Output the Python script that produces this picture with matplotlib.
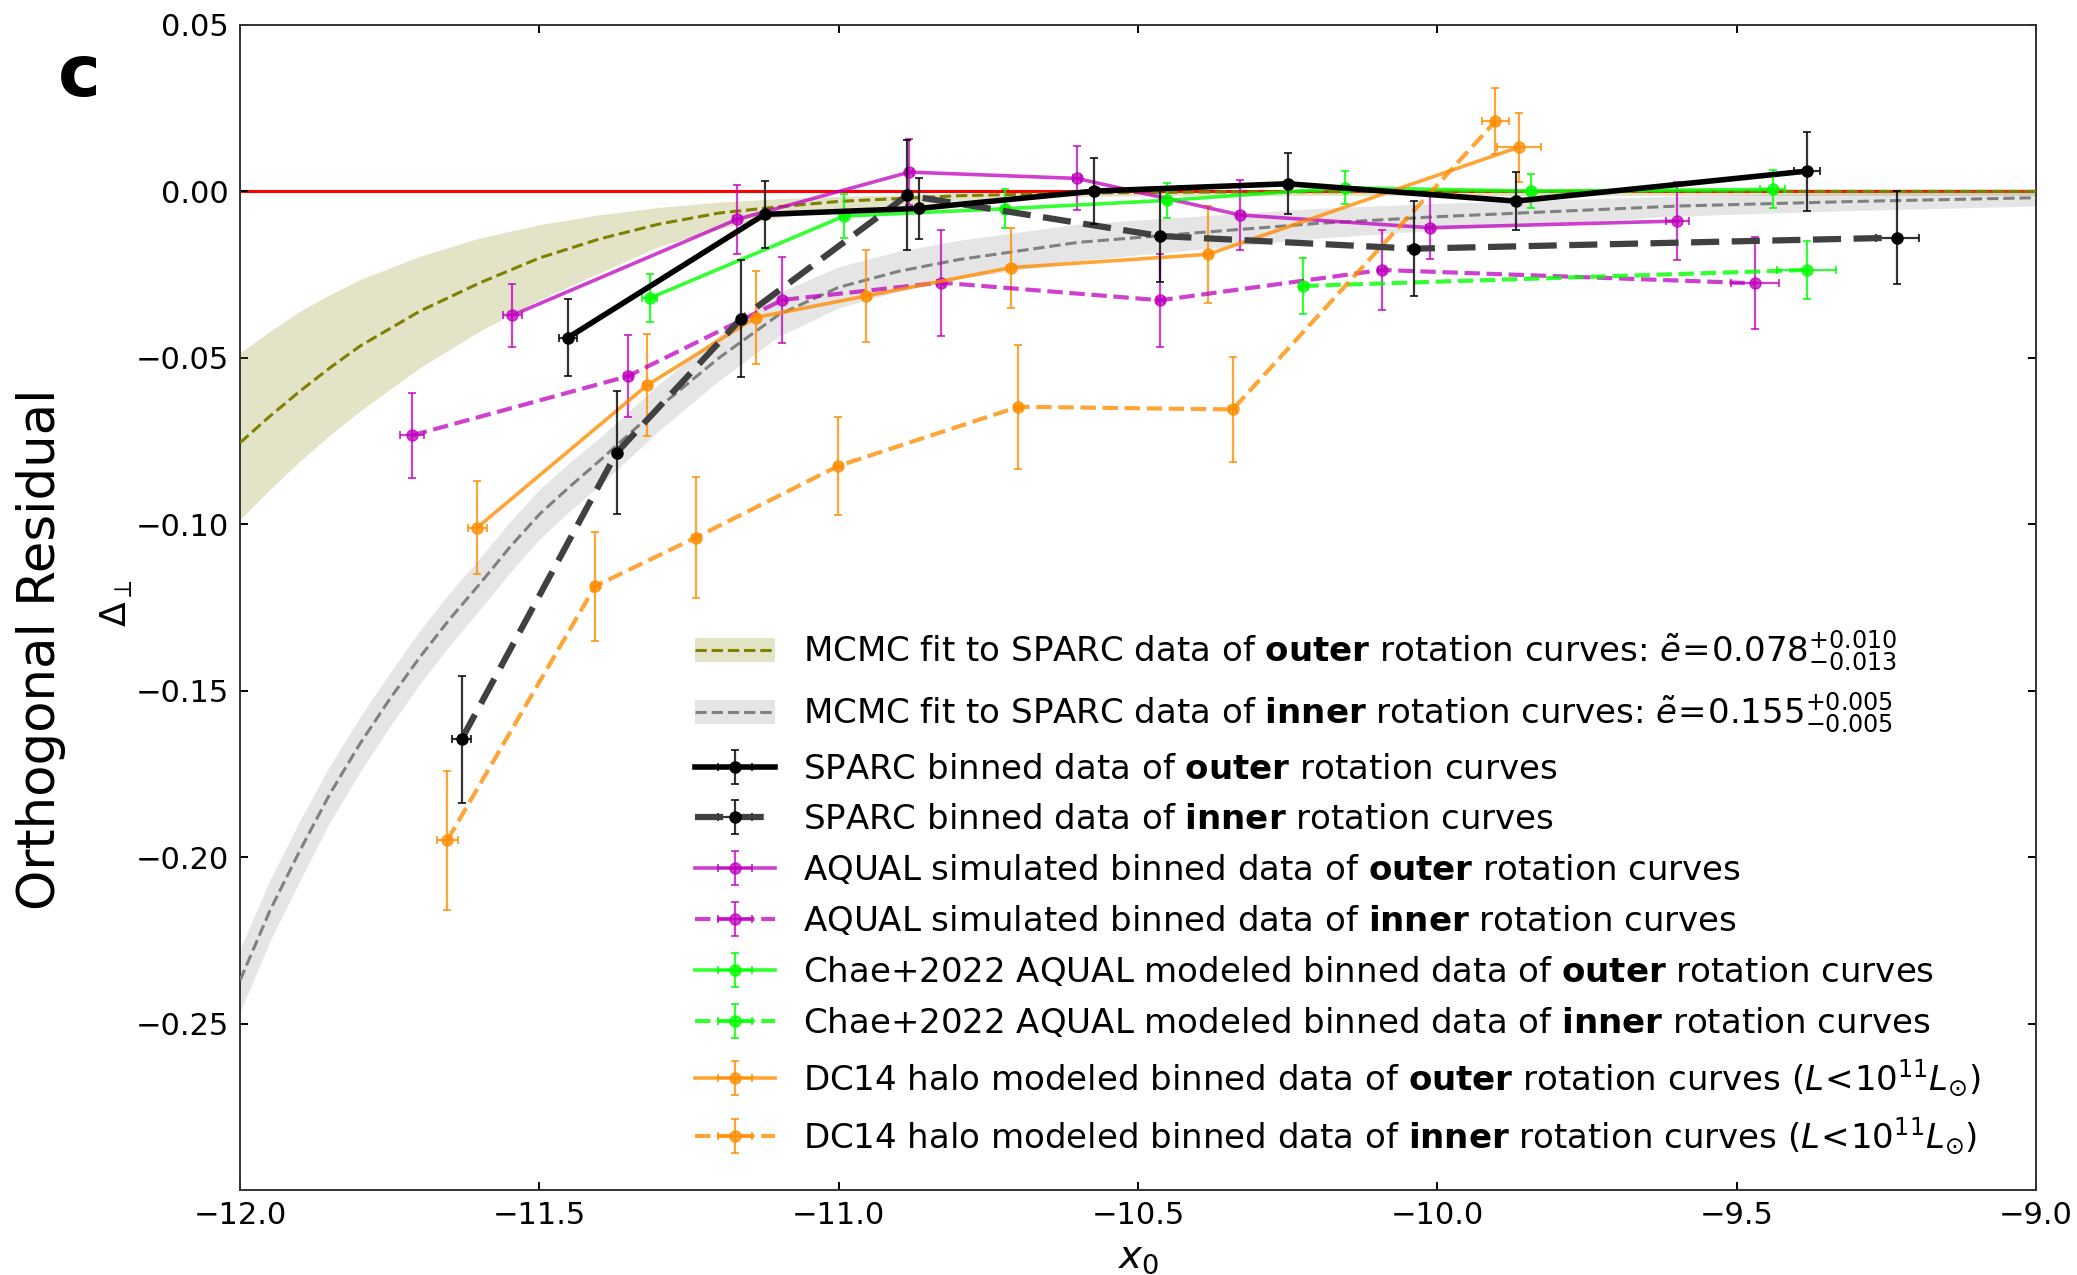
import matplotlib.pyplot as plt

# MCMC fit curves (x0 grid, centre line, band edges)
fit_out_x = [-12.0, -11.95, -11.9, -11.85, -11.8, -11.7, -11.6, -11.5, -11.4, -11.3, -11.2,
             -11.1, -11.0, -10.8, -10.6, -10.4, -10.0, -9.5, -9.0]
fit_out_y = [-0.0755, -0.0675, -0.0600, -0.0530, -0.0465, -0.0360, -0.0275, -0.0200,
             -0.0143, -0.0098, -0.0065, -0.0046, -0.0030, -0.0013, -0.0005, -0.0002,
             0.0, 0.0, 0.0]
fit_out_hi = [-0.0485, -0.0420, -0.0360, -0.0310, -0.0265, -0.0195, -0.0140, -0.0100,
              -0.0070, -0.0048, -0.0032, -0.0022, -0.0015, -0.0006, -0.0002, 0.0002,
              0.0008, 0.0008, 0.0008]
fit_out_lo = [-0.0985, -0.0895, -0.0810, -0.0732, -0.0660, -0.0530, -0.0420, -0.0325,
              -0.0245, -0.0165, -0.0112, -0.0078, -0.0055, -0.0028, -0.0015, -0.0012,
              -0.0012, -0.0012, -0.0012]

fit_in_x = [-12.0, -11.95, -11.9, -11.85, -11.8, -11.75, -11.7, -11.65, -11.6, -11.55,
            -11.5, -11.45, -11.4, -11.3, -11.2, -11.1, -11.0, -10.9, -10.8, -10.6, -10.4,
            -10.2, -10.0, -9.8, -9.6, -9.3, -9.0]
fit_in_y = [-0.237, -0.216, -0.198, -0.181, -0.166, -0.1525, -0.140, -0.1285, -0.118,
            -0.107, -0.097, -0.0888, -0.081, -0.0648, -0.050, -0.037, -0.0288, -0.024,
            -0.0205, -0.0153, -0.0124, -0.0096, -0.0076, -0.0060, -0.0044, -0.0030, -0.0019]
fit_in_hi = [-0.2275, -0.2068, -0.1890, -0.1725, -0.1580, -0.1447, -0.1320, -0.1206,
             -0.1102, -0.0994, -0.0895, -0.0815, -0.0741, -0.0578, -0.0432, -0.0305,
             -0.0226, -0.0180, -0.0147, -0.0098, -0.0074, -0.0051, -0.0036, -0.0025,
             -0.0014, -0.0003, 0.0006]
fit_in_lo = [-0.2465, -0.2252, -0.2070, -0.1895, -0.1745, -0.1608, -0.1480, -0.1364,
             -0.1258, -0.1146, -0.1045, -0.0961, -0.0885, -0.0718, -0.0568, -0.0435,
             -0.0350, -0.0300, -0.0263, -0.0208, -0.0174, -0.0141, -0.0116, -0.0095,
             -0.0074, -0.0057, -0.0044]

# binned residuals
sparc_out_x = [-11.452, -11.124, -10.866, -10.573, -10.250, -9.869, -9.383]
sparc_out_y = [-0.0439, -0.0069, -0.0051, 0.0001, 0.0023, -0.0029, 0.0061]
sparc_out_ye = [0.0117, 0.0100, 0.0092, 0.0098, 0.0092, 0.0086, 0.0119]
sparc_out_xe = [0.015, 0.005, 0.005, 0.008, 0.005, 0.006, 0.022]

sparc_in_x = [-11.630, -11.371, -11.163, -10.886, -10.463, -10.039, -9.232]
sparc_in_y = [-0.1646, -0.0785, -0.0382, -0.0012, -0.0134, -0.0172, -0.0139]
sparc_in_ye = [0.0190, 0.0185, 0.0175, 0.0165, 0.0137, 0.0142, 0.0139]
sparc_in_xe = [0.016, 0.006, 0.006, 0.006, 0.006, 0.006, 0.036]

aqual_out_x = [-11.545, -11.170, -10.882, -10.602, -10.329, -10.013, -9.599]
aqual_out_y = [-0.0372, -0.0084, 0.0058, 0.0039, -0.0071, -0.0109, -0.0089]
aqual_out_ye = [0.0095, 0.0103, 0.0100, 0.0096, 0.0106, 0.0094, 0.0116]
aqual_out_xe = [0.016, 0.006, 0.006, 0.006, 0.006, 0.006, 0.019]

aqual_in_x = [-11.713, -11.352, -11.094, -10.830, -10.463, -10.093, -9.470]
aqual_in_y = [-0.0733, -0.0555, -0.0326, -0.0274, -0.0327, -0.0236, -0.0276]
aqual_in_ye = [0.0128, 0.0123, 0.0129, 0.0159, 0.0139, 0.0120, 0.0138]
aqual_in_xe = [0.020, 0.006, 0.006, 0.006, 0.006, 0.006, 0.040]

chae_out_x = [-11.316, -10.991, -10.722, -10.452, -10.155, -9.844, -9.440]
chae_out_y = [-0.0321, -0.0074, -0.0052, -0.0027, 0.0011, 0.0001, 0.0006]
chae_out_ye = [0.0072, 0.0065, 0.0059, 0.0053, 0.0050, 0.0051, 0.0057]
chae_out_xe = [0.012, 0.005, 0.005, 0.005, 0.005, 0.005, 0.021]

chae_in_x = [-10.224, -9.383]
chae_in_y = [-0.0284, -0.0236]
chae_in_ye = [0.0083, 0.0088]
chae_in_xe = [0.008, 0.049]

dc14_out_x = [-11.604, -11.320, -11.139, -10.954, -10.713, -10.383, -9.864]
dc14_out_y = [-0.1010, -0.0582, -0.0379, -0.0314, -0.0229, -0.0189, 0.0133]
dc14_out_ye = [0.0139, 0.0154, 0.0141, 0.0138, 0.0120, 0.0146, 0.0104]
dc14_out_xe = [0.016, 0.006, 0.006, 0.006, 0.006, 0.006, 0.037]

dc14_in_x = [-11.654, -11.407, -11.239, -11.001, -10.700, -10.342, -9.903]
dc14_in_y = [-0.195, -0.1186, -0.104, -0.0825, -0.0647, -0.0655, 0.0211]
dc14_in_ye = [0.0209, 0.0164, 0.0183, 0.0147, 0.0186, 0.0157, 0.0099]
dc14_in_xe = [0.0175, 0.006, 0.006, 0.006, 0.006, 0.006, 0.022]

fig = plt.figure(figsize=(20.77, 12.75), dpi=100)
ax = fig.add_axes([0.1156, 0.0667, 0.8647, 0.9137])

ax.axhline(0, color='red', lw=2.2, zorder=1)

# fit bands
band_out = ax.fill_between(fit_out_x, fit_out_lo, fit_out_hi, color='olive', alpha=0.22,
                           lw=0, zorder=2)
line_out, = ax.plot(fit_out_x, fit_out_y, '--', color='olive', lw=2.2, zorder=3)
band_in = ax.fill_between(fit_in_x, fit_in_lo, fit_in_hi, color='0.6', alpha=0.25,
                          lw=0, zorder=2)
line_in, = ax.plot(fit_in_x, fit_in_y, '--', color='gray', lw=2.2, zorder=3)

ms = 8
eb_kw = dict(elinewidth=1.6, capsize=3, capthick=1.4)

h1 = ax.errorbar(sparc_out_x, sparc_out_y, yerr=sparc_out_ye, xerr=sparc_out_xe,
                 fmt='-o', color='k', lw=4, ms=ms, ecolor=(0, 0, 0, 0.8), zorder=6, **eb_kw)
h2 = ax.errorbar(sparc_in_x, sparc_in_y, yerr=sparc_in_ye, xerr=sparc_in_xe,
                 fmt='--o', color='k', lw=4.5, ms=ms, ecolor=(0, 0, 0, 0.8), zorder=5,
                 dashes=(4.5, 2), **eb_kw)
h2[0].set_color('0.25')
h2[0].set_markerfacecolor('k')
h2[0].set_markeredgecolor('k')

mag = (0.75, 0.0, 0.75, 0.75)
h3 = ax.errorbar(aqual_out_x, aqual_out_y, yerr=aqual_out_ye, xerr=aqual_out_xe,
                 fmt='-o', color=mag, lw=2.6, ms=ms, zorder=4, **eb_kw)
h4 = ax.errorbar(aqual_in_x, aqual_in_y, yerr=aqual_in_ye, xerr=aqual_in_xe,
                 fmt='--o', color=mag, lw=3, ms=ms, zorder=4, **eb_kw)

grn = (0.0, 1.0, 0.0, 0.8)
h5 = ax.errorbar(chae_out_x, chae_out_y, yerr=chae_out_ye, xerr=chae_out_xe,
                 fmt='-o', color=grn, lw=2.6, ms=ms, zorder=4, **eb_kw)
h6 = ax.errorbar(chae_in_x, chae_in_y, yerr=chae_in_ye, xerr=chae_in_xe,
                 fmt='--o', color=grn, lw=3, ms=ms, zorder=4, **eb_kw)

org = (1.0, 0.55, 0.0, 0.78)
h7 = ax.errorbar(dc14_out_x, dc14_out_y, yerr=dc14_out_ye, xerr=dc14_out_xe,
                 fmt='-o', color=org, lw=2.6, ms=ms, zorder=4, **eb_kw)
h8 = ax.errorbar(dc14_in_x, dc14_in_y, yerr=dc14_in_ye, xerr=dc14_in_xe,
                 fmt='--o', color=org, lw=3, ms=ms, zorder=4, **eb_kw)

ax.set_xlim(-12.0, -9.0)
ax.set_ylim(-0.30, 0.05)
ax.set_xticks([-12.0, -11.5, -11.0, -10.5, -10.0, -9.5, -9.0])
ax.set_yticks([-0.25, -0.20, -0.15, -0.10, -0.05, 0.00, 0.05])
ax.tick_params(direction='in', top=True, right=True, length=6, width=1.4,
               labelsize=22, pad=8)
for s in ax.spines.values():
    s.set_linewidth(1.4)
    s.set_color('0.2')

ax.set_xlabel(r'$x_0$', fontsize=28, labelpad=6)
fig.text(0.0195, 0.491, 'Orthogonal Residual', rotation=90, fontsize=37,
         ha='center', va='center')
fig.text(0.0558, 0.527, r'$\Delta_{\perp}$', rotation=90, fontsize=26,
         ha='center', va='center')
fig.text(0.038, 0.94, 'c', fontsize=52, fontweight='bold', ha='center', va='center')

labels = [
    r'MCMC fit to SPARC data of $\mathbf{outer}$ rotation curves: $\tilde{e}\!=\!0.078^{+0.010}_{-0.013}$',
    r'MCMC fit to SPARC data of $\mathbf{inner}$ rotation curves: $\tilde{e}\!=\!0.155^{+0.005}_{-0.005}$',
    r'SPARC binned data of $\mathbf{outer}$ rotation curves',
    r'SPARC binned data of $\mathbf{inner}$ rotation curves',
    r'AQUAL simulated binned data of $\mathbf{outer}$ rotation curves',
    r'AQUAL simulated binned data of $\mathbf{inner}$ rotation curves',
    r'Chae+2022 AQUAL modeled binned data of $\mathbf{outer}$ rotation curves',
    r'Chae+2022 AQUAL modeled binned data of $\mathbf{inner}$ rotation curves',
    r'DC14 halo modeled binned data of $\mathbf{outer}$ rotation curves ($L\!<\!10^{11}L_{\odot}$)',
    r'DC14 halo modeled binned data of $\mathbf{inner}$ rotation curves ($L\!<\!10^{11}L_{\odot}$)',
]
handles = [(band_out, line_out), (band_in, line_in), h1, h2, h3, h4, h5, h6, h7, h8]
ax.legend(handles, labels, loc='upper left', bbox_to_anchor=(0.2533, 0.482),
          frameon=False, fontsize=24.5, handlelength=2.35, handletextpad=0.82,
          labelspacing=0.5, borderpad=0, borderaxespad=0)

fig.savefig('out.png', dpi=100)
